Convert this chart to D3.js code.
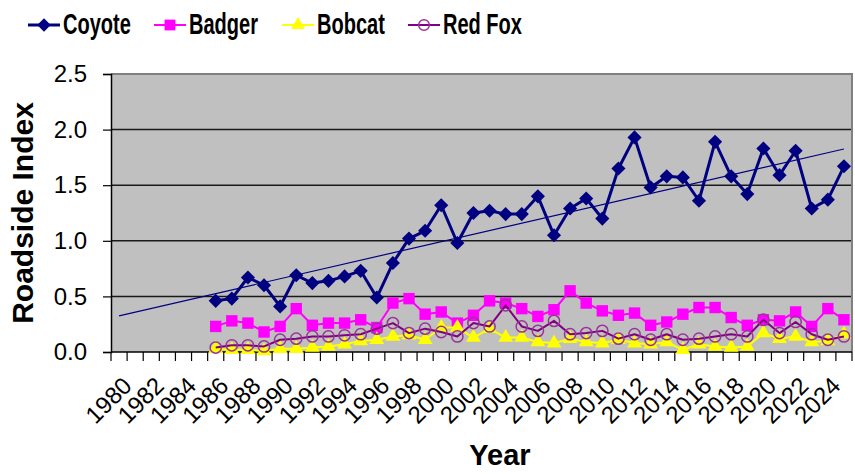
<!DOCTYPE html>
<html>
<head>
<meta charset="utf-8">
<script src="https://cdn.jsdelivr.net/npm/d3@7"></script>
<style>
  body { margin: 0; background: #fff; }
  svg { display: block; font-family: "Liberation Sans", Arial, sans-serif; }
</style>
</head>
<body>
<svg id="chart" width="855" height="474"></svg>
<script>
// categories on the x axis (one per year)
var years = [1980, 1981, 1982, 1983, 1984, 1985, 1986, 1987, 1988, 1989,
  1990, 1991, 1992, 1993, 1994, 1995, 1996, 1997, 1998, 1999,
  2000, 2001, 2002, 2003, 2004, 2005, 2006, 2007, 2008, 2009,
  2010, 2011, 2012, 2013, 2014, 2015, 2016, 2017, 2018, 2019,
  2020, 2021, 2022, 2023, 2024, 2025];
var labelYears = [1980, 1982, 1984, 1986, 1988, 1990, 1992, 1994, 1996, 1998,
  2000, 2002, 2004, 2006, 2008, 2010, 2012, 2014, 2016, 2018, 2020, 2022, 2024];
var yTicks = [0, 0.5, 1.0, 1.5, 2.0, 2.5];

// survey values 1986..2025
var coyote = [0.46, 0.48, 0.67, 0.60, 0.41, 0.69, 0.62, 0.64, 0.68, 0.73,
  0.49, 0.80, 1.02, 1.09, 1.32, 0.98, 1.25, 1.27, 1.24, 1.24,
  1.40, 1.05, 1.29, 1.38, 1.20, 1.65, 1.93, 1.48, 1.58, 1.57,
  1.36, 1.89, 1.58, 1.42, 1.83, 1.59, 1.81, 1.29, 1.37, 1.67];
var badger = [0.23, 0.28, 0.26, 0.18, 0.23, 0.39, 0.24, 0.26, 0.26, 0.29,
  0.22, 0.44, 0.48, 0.34, 0.36, 0.26, 0.33, 0.46, 0.44, 0.39,
  0.32, 0.38, 0.55, 0.44, 0.37, 0.33, 0.35, 0.24, 0.27, 0.34,
  0.40, 0.40, 0.31, 0.24, 0.29, 0.28, 0.36, 0.23, 0.39, 0.29];
var bobcat = [0.03, 0.02, 0.02, 0.01, 0.03, 0.03, 0.04, 0.05, 0.07, 0.10,
  0.11, 0.14, 0.15, 0.11, 0.22, 0.22, 0.13, 0.21, 0.13, 0.13,
  0.09, 0.08, 0.12, 0.09, 0.08, 0.11, 0.08, 0.07, 0.09, 0.02,
  0.07, 0.05, 0.04, 0.05, 0.17, 0.12, 0.14, 0.09, 0.10, 0.16];
var redFox = [0.04, 0.06, 0.06, 0.05, 0.11, 0.12, 0.14, 0.14, 0.15, 0.16,
  0.21, 0.26, 0.17, 0.21, 0.18, 0.14, 0.26, 0.23, 0.42, 0.23,
  0.19, 0.28, 0.16, 0.17, 0.19, 0.12, 0.16, 0.11, 0.16, 0.11,
  0.12, 0.14, 0.16, 0.14, 0.29, 0.17, 0.27, 0.16, 0.11, 0.14];
var dataYears = years.slice(6);

var seriesNames = ["Coyote", "Badger", "Bobcat", "Red Fox"];

// diamond = square turned 45 degrees
var series = [
  { values: coyote, color: "#000080", width: 3, symbol: d3.symbolSquare, size: 100, turn: 45, fill: "#000080", stroke: "none" },
  { values: badger, color: "#FF00FF", width: 2, symbol: d3.symbolSquare, size: 130, turn: 0, fill: "#FF00FF", stroke: "none" },
  { values: bobcat, color: "#FFFF00", width: 2, symbol: d3.symbolTriangle, size: 95, turn: 0, fill: "#FFFF00", stroke: "none" },
  { values: redFox, color: "#800080", width: 2, symbol: d3.symbolCircle, size: 100, turn: 0, fill: "none", stroke: "#993399" }
];

var svg = d3.select("#chart");
var pL = 111, pR = 852, pT = 74, pB = 352;

var x = d3.scaleBand().domain(years).range([pL, pR]).padding(0);
var y = d3.scaleLinear().domain([0, 2.5]).range([pB, pT]);
var bw = x.bandwidth();
var cx = function (yr) { return x(yr) + bw / 2; };

// plot area
svg.append("rect")
  .attr("x", pL).attr("y", pT)
  .attr("width", pR - pL).attr("height", pB - pT)
  .attr("fill", "#C0C0C0");

// gridlines
svg.append("g")
  .selectAll("line")
  .data(yTicks.filter(function (t) { return t > 0 && t < 2.5; }))
  .enter().append("line")
  .attr("x1", pL).attr("x2", pR)
  .attr("y1", function (d) { return y(d); })
  .attr("y2", function (d) { return y(d); })
  .attr("stroke", "#1a1a1a")
  .attr("stroke-width", 1.5);

// frame top / right
svg.append("path")
  .attr("d", `M${pL},${pT}H${pR}V${pB}`)
  .attr("fill", "none")
  .attr("stroke", "#808080")
  .attr("stroke-width", 2);

// y axis
var yAxis = svg.append("g")
  .attr("transform", `translate(${pL},0)`)
  .call(d3.axisLeft(y).tickValues(yTicks).tickFormat(d3.format(".1f")).tickSize(8).tickPadding(16));
yAxis.select(".domain").attr("stroke", "#000").attr("stroke-width", 1.5);
yAxis.selectAll(".tick line").attr("stroke", "#000").attr("stroke-width", 1.2);
yAxis.selectAll("text")
  .attr("font-size", 24)
  .attr("fill", "#000")
  .attr("font-family", "Liberation Sans, Arial, sans-serif");

// x axis baseline and category-boundary ticks
svg.append("line")
  .attr("x1", pL).attr("x2", pR)
  .attr("y1", pB).attr("y2", pB)
  .attr("stroke", "#000").attr("stroke-width", 1.5);
svg.append("g")
  .selectAll("line")
  .data(years.concat([null]))
  .enter().append("line")
  .attr("x1", function (d) { return d === null ? pR : x(d); })
  .attr("x2", function (d) { return d === null ? pR : x(d); })
  .attr("y1", pB).attr("y2", pB + 9)
  .attr("stroke", "#000").attr("stroke-width", 1.2);

var xAxis = svg.append("g")
  .attr("transform", `translate(0,${pB})`)
  .call(d3.axisBottom(x).tickValues(labelYears).tickSize(0).tickPadding(0));
xAxis.select(".domain").remove();
xAxis.selectAll("text")
  .attr("font-size", 24)
  .attr("fill", "#000")
  .attr("font-family", "Liberation Sans, Arial, sans-serif")
  .attr("text-anchor", "end")
  .attr("dy", "0.72em")
  .attr("transform", "translate(2,23) rotate(-45)");

// trendline for coyote (least squares)
var mx = d3.mean(dataYears), my = d3.mean(coyote);
var sxy = d3.sum(dataYears, function (d, i) { return (d - mx) * (coyote[i] - my); });
var sxx = d3.sum(dataYears, function (d) { return (d - mx) * (d - mx); });
var slope = sxy / sxx, icpt = my - slope * mx;
var trendYears = [years[0], years[years.length - 1]];
svg.append("line")
  .attr("x1", cx(trendYears[0])).attr("y1", y(icpt + slope * trendYears[0]))
  .attr("x2", cx(trendYears[1])).attr("y2", y(icpt + slope * trendYears[1]))
  .attr("stroke", "#000080").attr("stroke-width", 1.2);

// series
var line = d3.line()
  .x(function (d) { return cx(d.year); })
  .y(function (d) { return y(d.v); });

series.forEach(function (s) {
  var pts = s.values.map(function (v, i) { return { year: dataYears[i], v: v }; });
  var g = svg.append("g").attr("class", "series");
  g.append("path")
    .datum(pts)
    .attr("d", line)
    .attr("fill", "none")
    .attr("stroke", s.color)
    .attr("stroke-width", s.width)
    .attr("stroke-linejoin", "round");
  g.selectAll("path.mark")
    .data(pts)
    .enter().append("path")
    .attr("class", "mark")
    .attr("d", d3.symbol().type(s.symbol).size(s.size))
    .attr("transform", function (d) {
      return `translate(${cx(d.year)},${y(d.v)}) rotate(${s.turn})`;
    })
    .attr("fill", s.fill)
    .attr("stroke", s.stroke)
    .attr("stroke-width", 1.5);
});

// legend
var legend = svg.append("g");
var legendX = [28, 154, 282, 408];
series.forEach(function (s, i) {
  var g = legend.append("g").attr("transform", `translate(${legendX[i]},25)`);
  g.append("line")
    .attr("x1", 0).attr("x2", 32)
    .attr("stroke", s.color).attr("stroke-width", s.width);
  g.append("path")
    .attr("d", d3.symbol().type(s.symbol).size(s.size * 0.9))
    .attr("transform", `translate(16,0) rotate(${s.turn})`)
    .attr("fill", s.fill)
    .attr("stroke", s.stroke)
    .attr("stroke-width", 1.5);
  var t = g.append("text")
    .attr("x", 35).attr("y", 9)
    .attr("font-size", 29)
    .attr("font-weight", "bold")
    .attr("fill", "#000")
    .text(seriesNames[i]);
  var w = t.node().getComputedTextLength();
  t.attr("textLength", w * 0.69).attr("lengthAdjust", "spacingAndGlyphs");
});

// axis titles
svg.append("text")
  .attr("transform", "translate(33,213) rotate(-90)")
  .attr("text-anchor", "middle")
  .attr("font-size", 30)
  .attr("font-weight", "bold")
  .text("Roadside Index");
svg.append("text")
  .attr("x", 500).attr("y", 465)
  .attr("text-anchor", "middle")
  .attr("font-size", 29)
  .attr("font-weight", "bold")
  .text("Year");
</script>
</body>
</html>
